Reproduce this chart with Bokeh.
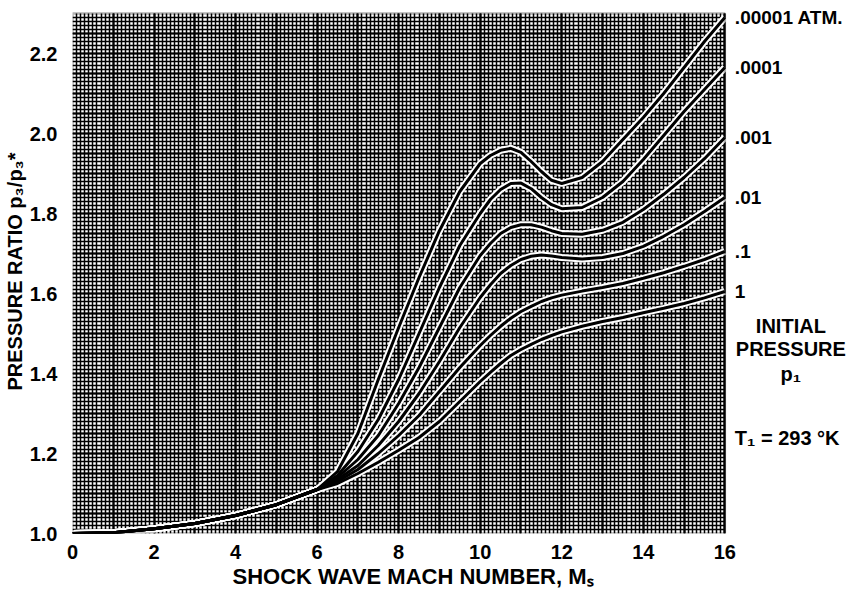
from bokeh.plotting import figure
from bokeh.models import (SingleIntervalTicker, FixedTicker, PrintfTickFormatter,
                          BoxAnnotation, Title)
from bokeh.core.properties import value
from bokeh.embed import file_html
from bokeh.resources import INLINE

# ---- data ----
mach_common = [0, 1, 2, 3, 4, 5, 6]
ratio_common = [1.0, 1.002, 1.012, 1.025, 1.045, 1.072, 1.11]

mach_branch = [6, 6.5, 7, 7.5, 8, 8.5, 9, 9.5, 10, 10.25, 10.5, 10.75, 11,
               11.25, 11.5, 11.75, 12, 12.5, 13, 13.5, 14, 14.5, 15, 15.5, 16]

p_00001 = [1.11, 1.155, 1.25, 1.385, 1.515, 1.64, 1.757, 1.855, 1.925, 1.945, 1.958,
           1.963, 1.953, 1.93, 1.905, 1.883, 1.875, 1.89, 1.93, 1.985, 2.04, 2.10,
           2.165, 2.23, 2.29]
p_0001 = [1.11, 1.145, 1.205, 1.285, 1.385, 1.50, 1.615, 1.72, 1.80, 1.835, 1.86,
          1.875, 1.876, 1.862, 1.84, 1.822, 1.812, 1.815, 1.84, 1.88, 1.935, 1.995,
          2.055, 2.11, 2.165]
p_001 = [1.11, 1.14, 1.185, 1.245, 1.325, 1.415, 1.515, 1.615, 1.695, 1.725, 1.75,
         1.765, 1.772, 1.772, 1.766, 1.757, 1.75, 1.748, 1.758, 1.778, 1.81, 1.848,
         1.89, 1.937, 1.99]
p_01 = [1.11, 1.135, 1.17, 1.22, 1.28, 1.35, 1.43, 1.515, 1.59, 1.622, 1.65, 1.67,
        1.685, 1.693, 1.696, 1.694, 1.69, 1.686, 1.69, 1.70, 1.718, 1.743, 1.772,
        1.805, 1.84]
p_1 = [1.11, 1.13, 1.16, 1.20, 1.245, 1.295, 1.355, 1.415, 1.47, 1.495, 1.518,
       1.538, 1.555, 1.568, 1.58, 1.589, 1.596, 1.606, 1.615, 1.625, 1.638, 1.652,
       1.668, 1.685, 1.705]
p_one = [1.11, 1.125, 1.15, 1.178, 1.208, 1.24, 1.28, 1.33, 1.38, 1.403, 1.425,
         1.445, 1.46, 1.473, 1.485, 1.495, 1.504, 1.518, 1.53, 1.54, 1.552, 1.563,
         1.575, 1.589, 1.605]

curves = [p_00001, p_0001, p_001, p_01, p_1, p_one]
curve_labels = [".00001 ATM.", ".0001", ".001", ".01", ".1", "1"]
legend_title = ["INITIAL", "PRESSURE", "p\u2081"]
temperature_note = "T\u2081 = 293 \u00b0K"
x_title = "SHOCK WAVE MACH NUMBER, M\u209b"
y_title = "PRESSURE RATIO p\u2083/p\u2083*"

x_ticks = [0, 2, 4, 6, 8, 10, 12, 14, 16]
y_ticks = [1.0, 1.2, 1.4, 1.6, 1.8, 2.0, 2.2]
X_MIN, X_MAX = 0, 16
Y_MIN, Y_MAX = 1.0, 2.3

FONT = "Liberation Sans"

# ---- layout (pixels) ----
W, H = 864, 589
LEFT, BOTTOM = 70, 56
GRID_W, GRID_H = 654, 520          # size of the graph-paper area
frame_w = W - LEFT
frame_h = H - BOTTOM
x_end = X_MIN + (X_MAX - X_MIN) * frame_w / GRID_W
y_end = Y_MIN + (Y_MAX - Y_MIN) * frame_h / GRID_H

p = figure(width=W, height=H, x_range=(X_MIN, x_end), y_range=(Y_MIN, y_end),
           output_backend="svg", toolbar_location=None,
           min_border_left=LEFT, min_border_right=0,
           min_border_top=0, min_border_bottom=BOTTOM)
p.background_fill_color = "white"
p.border_fill_color = "white"
p.outline_line_color = None

# graph-paper mesh restricted to the data area
p.xgrid.ticker = SingleIntervalTicker(interval=1, num_minor_ticks=10)
p.ygrid.ticker = SingleIntervalTicker(interval=0.05, num_minor_ticks=5)
p.xgrid.bounds = (X_MIN, X_MAX)
p.xgrid.cross_bounds = (Y_MIN, Y_MAX)
p.ygrid.bounds = (Y_MIN, Y_MAX)
p.ygrid.cross_bounds = (X_MIN, X_MAX)
for g in (p.xgrid, p.ygrid):
    g.grid_line_color = "black"
    g.grid_line_width = 2.2
    g.grid_line_alpha = 1.0
    g.minor_grid_line_color = "black"
    g.minor_grid_line_width = 1.5
    g.minor_grid_line_alpha = 1.0

p.add_layout(BoxAnnotation(left=X_MIN, right=X_MAX, bottom=Y_MIN, top=Y_MAX,
                           fill_alpha=0, line_color="black", line_width=2.5))

# axes
p.xaxis.ticker = FixedTicker(ticks=x_ticks)
p.yaxis.ticker = FixedTicker(ticks=y_ticks)
p.xaxis.bounds = (X_MIN, X_MAX)
p.yaxis.bounds = (Y_MIN, Y_MAX)
p.xaxis.formatter = PrintfTickFormatter(format="%d")
p.yaxis.formatter = PrintfTickFormatter(format="%.1f")
for ax in (p.xaxis, p.yaxis):
    ax.axis_line_color = None
    ax.major_tick_line_color = None
    ax.minor_tick_line_color = None
    ax.major_label_text_font = FONT
    ax.major_label_text_font_style = "bold"
    ax.major_label_text_font_size = "20px"
    ax.major_label_text_color = "black"
p.xaxis.major_label_standoff = 5
p.yaxis.major_label_standoff = 9

# axis titles, aligned to the graph-paper area rather than the whole frame
p.add_layout(Title(text=x_title, align="left", offset=160, standoff=0,
                   text_font=FONT, text_font_style="bold", text_font_size="22px",
                   text_color="black"), "below")
p.add_layout(Title(text=y_title, align="left", offset=143, standoff=2,
                   text_font=FONT, text_font_style="bold", text_font_size="20px",
                   text_color="black"), "left")

# curves
for vals in curves:
    xs = mach_common + mach_branch[1:]
    ys = ratio_common + vals[1:]
    p.line(xs, ys, line_color="white", line_width=7)
for vals in curves:
    xs = mach_common + mach_branch[1:]
    ys = ratio_common + vals[1:]
    p.line(xs, ys, line_color="black", line_width=3)

# right-hand labels
p.text(x=[X_MAX] * len(curves), y=[c[-1] for c in curves], text=curve_labels,
       x_offset=10, text_font=value(FONT), text_font_style="bold",
       text_font_size="19px", text_baseline="middle", text_align="left",
       text_color="black")
p.text(x=[X_MAX] * 3, y=[1.52, 1.4625, 1.40], text=legend_title,
       x_offset=66, text_font=value(FONT), text_font_style="bold",
       text_font_size="20px", text_baseline="middle", text_align="center",
       text_color="black")
p.text(x=[X_MAX], y=[1.24], text=[temperature_note],
       x_offset=10, text_font=value(FONT), text_font_style="bold",
       text_font_size="20px", text_baseline="middle", text_align="left",
       text_color="black")

open("out.html", "w").write(file_html(p, INLINE))
